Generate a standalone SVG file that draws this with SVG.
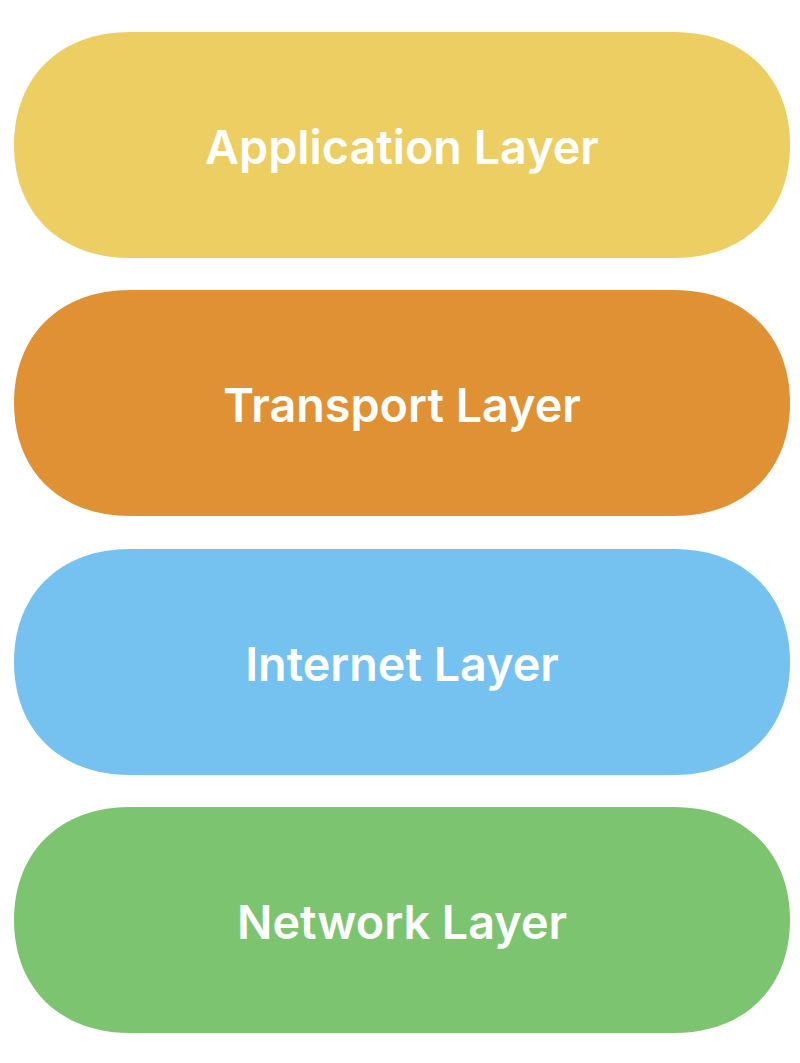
<svg xmlns="http://www.w3.org/2000/svg" width="800" height="1063" viewBox="0 0 800 1063">
<defs>
<style>
.lbl{font-family:Inter,"Liberation Sans",sans-serif;font-weight:600;font-size:46.7px;fill:#ffffff;text-anchor:middle;dominant-baseline:central}
</style>
<path id="pill" d="M130,0 L674,0 C744,0 790,45 790,113 C790,181 744,226 674,226 L130,226 C60,226 14,181 14,113 C14,45 60,0 130,0 Z"/>
</defs>
<rect width="800" height="1063" fill="#ffffff"/>
<g id="application">
<use href="#pill" x="0" y="32" fill="#EDCE63"/>
<text class="lbl" x="402" y="147">Application Layer</text>
</g>
<g id="transport">
<use href="#pill" x="0" y="290" fill="#E09134"/>
<text class="lbl" x="402" y="405">Transport Layer</text>
</g>
<g id="internet">
<use href="#pill" x="0" y="549" fill="#75C1F0"/>
<text class="lbl" x="402" y="664">Internet Layer</text>
</g>
<g id="network">
<use href="#pill" x="0" y="807" fill="#7DC470"/>
<text class="lbl" x="402" y="922">Network Layer</text>
</g>
<g id="connectors"></g>
</svg>
